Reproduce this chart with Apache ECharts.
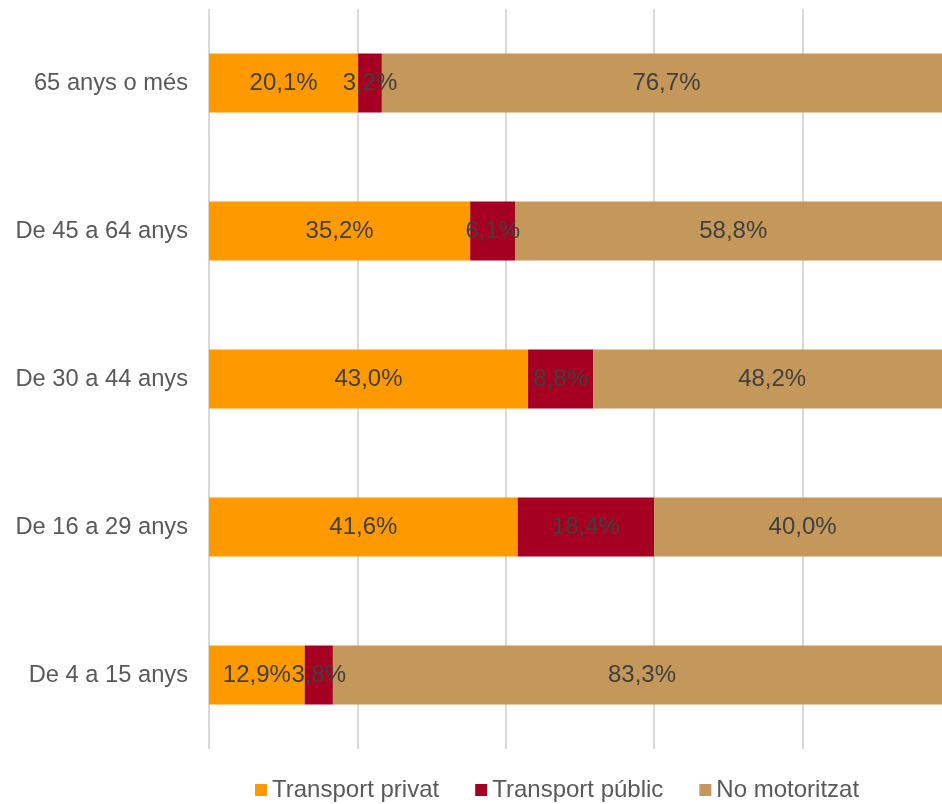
<!DOCTYPE html>
<html>
<head>
<meta charset="utf-8">
<script src="https://cdn.jsdelivr.net/npm/echarts@6/dist/echarts.min.js"></script>
<style>
  html, body { margin: 0; padding: 0; background: #fff; overflow: hidden; }
  #chart { width: 942px; height: 804px; }
</style>
</head>
<body>
<div id="chart"></div>
<script>
// Age groups, listed bottom to top
const categories = ['De 4 a 15 anys', 'De 16 a 29 anys', 'De 30 a 44 anys', 'De 45 a 64 anys', '65 anys o més'];
const seriesNames = ['Transport privat', 'Transport públic', 'No motoritzat'];
const privat = [12.9, 41.6, 43.0, 35.2, 20.1];
const public_ = [3.8, 18.4, 8.8, 6.1, 3.2];
const noMotor = [83.3, 40.0, 48.2, 58.8, 76.7];
const colors = ['#FF9900', '#A50021', '#C4975A'];

const fontFamily = 'Liberation Sans, Arial, sans-serif';
const fmt = p => p.value.toFixed(1).replace('.', ',') + '%';

function makeSeries(name, data, color) {
  return {
    name: name,
    type: 'bar',
    stack: 'total',
    data: data,
    barWidth: '40%',
    itemStyle: { color: color },
    label: {
      show: true,
      position: 'inside',
      formatter: fmt,
      color: '#404040',
      fontSize: 24,
      fontFamily: fontFamily
    },
    emphasis: { disabled: true }
  };
}

const chart = echarts.init(document.getElementById('chart'), null, { renderer: 'canvas' });
chart.setOption({
  animation: false,
  color: colors,
  // plot area runs past the right edge of the canvas, so 100% lies just outside it
  grid: { left: 209, width: 742, top: 9, height: 740, containLabel: false, outerBoundsMode: 'none' },
  xAxis: {
    type: 'value',
    min: 0,
    max: 100,
    interval: 20,
    axisLabel: { show: false },
    axisLine: { show: false },
    axisTick: { show: false },
    splitLine: { show: true, lineStyle: { color: '#D9D9D9', width: 2 } }
  },
  yAxis: {
    type: 'category',
    data: categories,
    axisLine: { show: false },
    axisTick: { show: false },
    axisLabel: { color: '#595959', fontSize: 23.7, fontFamily: fontFamily, margin: 21 }
  },
  legend: {
    top: 778,
    left: 255,
    padding: 0,
    itemWidth: 12,
    itemHeight: 12,
    itemGap: 36,
    icon: 'rect',
    textStyle: { color: '#595959', fontSize: 24, fontFamily: fontFamily },
    data: seriesNames
  },
  series: [
    makeSeries(seriesNames[0], privat, colors[0]),
    makeSeries(seriesNames[1], public_, colors[1]),
    makeSeries(seriesNames[2], noMotor, colors[2])
  ]
});
</script>
</body>
</html>
